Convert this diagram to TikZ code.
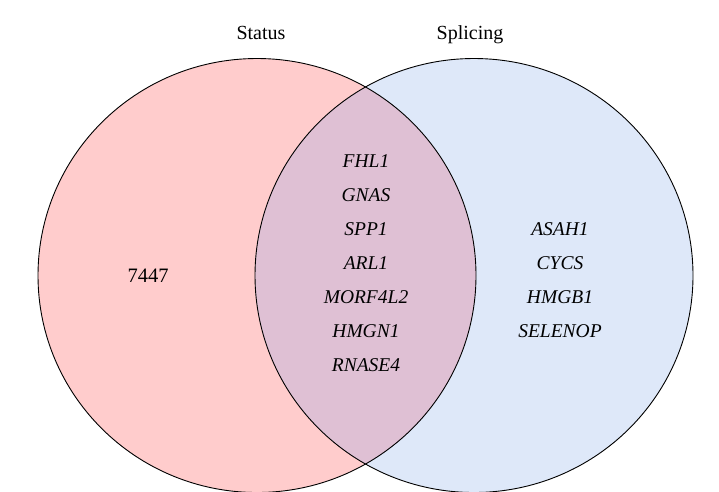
\documentclass[tikz,border=0pt]{standalone}
\usepackage{fontspec}
\setmainfont{Liberation Serif}
\definecolor{pinkset}{RGB}{255,204,204}
\definecolor{blueset}{RGB}{222,232,249}
\definecolor{mixset}{RGB}{223,192,212}
\begin{document}
\begin{tikzpicture}[x=1pt,y=-1pt,
  setlabel/.style={font=\fontsize{20}{24}\selectfont, inner sep=0pt, anchor=base},
  gene/.style={font=\fontsize{19.5}{24}\selectfont\itshape, inner sep=0pt, anchor=center},
  count/.style={font=\fontsize{20.5}{24}\selectfont, inner sep=0pt, anchor=center}]
\useasboundingbox (0,0) rectangle (719,491);
\coordinate (cl) at (257,275.5);
\coordinate (cr) at (474,275.5);
\fill[pinkset] (cl) ellipse [x radius=219, y radius=217];
\fill[blueset] (cr) ellipse [x radius=219, y radius=217];
\begin{scope}
  \clip (cl) ellipse [x radius=219, y radius=217];
  \fill[mixset] (cr) ellipse [x radius=219, y radius=217];
\end{scope}
\draw[black, line width=0.9pt] (cl) ellipse [x radius=219, y radius=217];
\draw[black, line width=0.9pt] (cr) ellipse [x radius=219, y radius=217];
\node[setlabel] (status) at (261,39) {Status};
\node[setlabel] (splicing) at (470,39) {Splicing};
\node[count] (n7447) at (148,276) {7447};
\node[gene] (g1) at (366,161) {FHL1};
\node[gene] (g2) at (366,195) {GNAS};
\node[gene] (g3) at (366,229) {SPP1};
\node[gene] (g4) at (366,263) {ARL1};
\node[gene] (g5) at (366,297) {MORF4L2};
\node[gene] (g6) at (366,331) {HMGN1};
\node[gene] (g7) at (366,365) {RNASE4};
\node[gene] (r1) at (560,229) {ASAH1};
\node[gene] (r2) at (560,263) {CYCS};
\node[gene] (r3) at (560,297) {HMGB1};
\node[gene] (r4) at (560,331) {SELENOP};
\end{tikzpicture}
\end{document}
